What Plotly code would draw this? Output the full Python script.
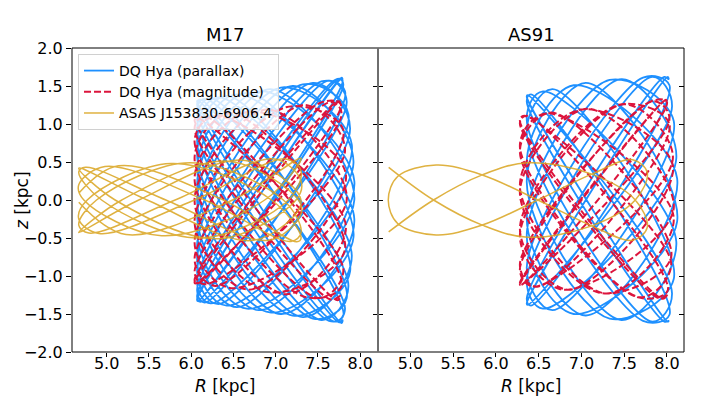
import plotly.graph_objects as go

# ---------------- data ----------------
panel_titles = ["M17", "AS91"]
series_names = ["DQ Hya (parallax)", "DQ Hya (magnitude)", "ASAS J153830-6906.4"]
x_title = "<i>R</i> [kpc]"
y_title = "<i>z</i> [kpc]"

x_tick_vals = [5.0, 5.5, 6.0, 6.5, 7.0, 7.5, 8.0]
y_tick_vals = [-2.0, -1.5, -1.0, -0.5, 0.0, 0.5, 1.0, 1.5, 2.0]

# M17 potential: DQ Hya (parallax) orbit waypoints (R, z in kpc)
m17_par_R = [7.79, 7.78, 6.07, 6.08,  7.80, 7.75, 6.07, 6.11,  7.84, 7.63, 6.07, 6.23,
             7.88, 7.44, 6.07, 6.42,  7.92, 7.20, 6.07, 6.66,  7.93, 6.93, 6.07, 6.93,
             7.92, 6.66, 6.07, 7.20,  7.88, 6.42, 6.07, 7.44,  7.84, 6.23, 6.07, 7.63,
             7.80, 6.11, 6.07, 7.75,
             7.79, 7.78, 6.07, 6.08,  7.82, 7.70, 6.07, 6.16,  7.86, 7.54, 6.07, 6.32,
             7.90, 7.32, 6.07, 6.54,  7.93, 7.06, 6.07, 6.80,  7.93, 6.80, 6.07, 7.06,
             7.90, 6.54, 6.07, 7.32,  7.86, 6.32, 6.07, 7.54,  7.82, 6.16, 6.07, 7.70,
             7.79, 6.08, 6.07, 7.78,  7.79]
m17_par_z = [1.59, 1.61, -1.31, -1.33,  1.52, 1.59, -1.26, -1.34,  1.29, 1.57, -1.07, -1.36,
             0.94, 1.54, -0.78, -1.39,  0.49, 1.50, -0.41, -1.43,  0.00, 1.46, 0.00, -1.48,
             -0.49, 1.41, 0.41, -1.52,  -0.94, 1.37, 0.78, -1.56,  -1.29, 1.34, 1.07, -1.59,
             -1.52, 1.32, 1.26, -1.61,
             -1.58, -1.62, 1.30, 1.31,  -1.43, -1.60, 1.18, 1.33,  -1.13, -1.58, 0.93, 1.35,
             -0.73, -1.54, 0.60, 1.39,  -0.25, -1.50, 0.21, 1.43,  0.25, -1.45, -0.21, 1.48,
             0.73, -1.41, -0.60, 1.52,  1.13, -1.37, -0.93, 1.56,  1.43, -1.35, -1.18, 1.58,
             1.58, -1.33, -1.30, 1.60,  1.59]

# M17 potential: DQ Hya (magnitude) orbit waypoints
m17_mag_R = [7.76, 7.75, 6.04, 6.05,  7.78, 7.65, 6.04, 6.16,  7.82, 7.33, 6.04, 6.47,
             7.84, 6.90, 6.04, 6.90,  7.82, 6.47, 6.04, 7.33,  7.78, 6.16, 6.04, 7.65,
             7.77, 7.73, 6.04, 6.07,  7.80, 7.51, 6.04, 6.29,  7.83, 7.12, 6.04, 6.68,
             7.83, 6.68, 6.04, 7.12,  7.80, 6.29, 6.04, 7.51,  7.77, 6.07, 6.04, 7.73,
             7.76]
m17_mag_z = [1.29, 1.30, -1.08, -1.10,  1.13, 1.29, -0.94, -1.11,  0.65, 1.25, -0.55, -1.16,
             0.00, 1.19, 0.00, -1.21,  -0.65, 1.14, 0.55, -1.27,  -1.13, 1.10, 0.94, -1.31,
             -1.26, -1.32, 1.05, 1.08,  -0.92, -1.29, 0.77, 1.11,  -0.34, -1.24, 0.28, 1.16,
             0.34, -1.18, -0.28, 1.22,  0.92, -1.13, -0.77, 1.27,  1.26, -1.10, -1.05, 1.30,
             1.29]

# M17 potential: ASAS J153830-6906.4 orbit waypoints
m17_asas_R = [4.67, 5.14, 6.38, 7.25, 7.30, 6.95, 5.76, 4.77, 4.67, 4.91, 6.04, 7.12,
              7.30, 7.15, 6.10, 4.94, 4.67, 4.75, 5.70, 6.92, 7.30, 7.27, 6.44, 5.18,
              4.67, 5.38, 6.64, 7.30, 6.74, 5.48, 4.67, 5.10, 6.33, 7.24, 7.30, 6.99,
              5.81, 4.79, 4.67, 4.88, 5.99, 7.09, 7.30, 7.18, 6.16, 4.98, 4.67, 4.73,
              5.65, 6.87, 7.30, 6.49, 5.23, 4.67]
m17_asas_z = [0.09, 0.45, 0.00, -0.55, -0.50, 0.00, 0.48, 0.00, -0.25, -0.44, 0.00, 0.54,
              0.38, 0.00, -0.50, 0.00, 0.37, 0.43, 0.00, -0.53, -0.18, 0.00, 0.51, 0.00,
              -0.43, 0.00, 0.52, -0.02, -0.53, 0.00, 0.42, 0.00, -0.51, 0.00, 0.25, 0.54,
              0.00, -0.435, -0.33, 0.00, 0.49, 0.00, -0.43, -0.545, 0.00, 0.44, 0.20, 0.00,
              -0.47, 0.00, 0.55, 0.00, -0.455, -0.03]

# AS91 potential: DQ Hya (parallax) orbit waypoints
as91_par_R = [8.02, 8.01, 6.36, 6.37,  8.06, 7.83, 6.36, 6.55,  8.11, 7.47, 6.36, 6.91,
              8.12, 7.05, 6.36, 7.33,  8.08, 6.66, 6.36, 7.72,  8.03, 6.41, 6.36, 7.97,
              8.02, 8.01, 6.36, 6.37,  8.06, 7.83, 6.36, 6.55,  8.11, 7.47, 6.36, 6.91,
              8.12, 7.05, 6.36, 7.33,  8.08, 6.66, 6.36, 7.72,  8.03, 6.41, 6.36, 7.97,
              8.02]
as91_par_z = [1.59, 1.62, -1.36, -1.38,  1.23, 1.62, -1.06, -1.43,  0.55, 1.59, -0.47, -1.50,
              -0.28, 1.54, 0.24, -1.56,  -1.04, 1.46, 0.89, -1.59,  -1.51, 1.39, 1.30, -1.60,
              -1.59, -1.60, 1.36, 1.38,  -1.23, -1.60, 1.06, 1.43,  -0.55, -1.58, 0.47, 1.51,
              0.28, -1.52, -0.24, 1.58,  1.04, -1.45, -0.89, 1.61,  1.51, -1.39, -1.30, 1.62,
              1.59]

# AS91 potential: DQ Hya (magnitude) orbit waypoints
as91_mag_R = [8.00, 7.99, 6.28, 6.29,  8.03, 7.84, 6.28, 6.44,  8.07, 7.50, 6.28, 6.78,
              8.08, 7.07, 6.28, 7.21,  8.05, 6.65, 6.28, 7.63,  8.01, 6.36, 6.28, 7.92,
              8.01, 7.95, 6.28, 6.33,  8.05, 7.69, 6.28, 6.59,  8.08, 7.29, 6.28, 6.99,
              8.07, 6.85, 6.28, 7.43,  8.03, 6.48, 6.28, 7.80,  8.00, 6.29, 6.28, 7.99,
              8.00]
as91_mag_z = [1.30, 1.32, -1.11, -1.12,  1.07, 1.30, -0.91, -1.14,  0.55, 1.26, -0.47, -1.18,
              -0.11, 1.20, 0.10, -1.22,  -0.75, 1.15, 0.64, -1.27,  -1.19, 1.11, 1.01, -1.30,
              -1.23, -1.30, 1.04, 1.11,  -0.84, -1.28, 0.71, 1.14,  -0.23, -1.23, 0.19, 1.19,
              0.45, -1.18, -0.38, 1.25,  1.00, -1.14, -0.85, 1.29,  1.29, -1.12, -1.09, 1.32,
              1.30]

# AS91 potential: ASAS J153830-6906.4 orbit waypoints
as91_asas_R = [4.745, 5.27, 5.84, 6.37, 7.12, 7.63, 7.77, 7.60, 7.12, 6.49, 5.84, 5.30,
               4.85, 4.74, 4.85, 5.30, 5.84, 6.49, 7.12, 7.60, 7.77, 7.63, 7.12, 6.37,
               5.84, 5.27, 4.745]
as91_asas_z = [0.43, 0.00, -0.33, -0.49, -0.34, 0.00, 0.36, 0.53, 0.34, 0.00, -0.33, -0.46,
               -0.31, 0.00, 0.31, 0.46, 0.33, 0.00, -0.34, -0.53, -0.36, 0.00, 0.34, 0.49,
               0.33, 0.00, -0.42]

# ---------------- styling ----------------
BLUE = "#1E90FF"
RED = "#DC143C"
GOLD = "#DAA520"
FONT = "DejaVu Sans"

fig = go.Figure()

def add_orbit(R, z, name, color, xa, ya, show, dash="solid", width=1.8, opacity=1.0):
    fig.add_trace(go.Scatter(
        x=R, y=z, mode="lines", name=name, xaxis=xa, yaxis=ya,
        line=dict(color=color, width=width, dash=dash, shape="spline", smoothing=1.0),
        opacity=opacity, showlegend=show, hoverinfo="skip"))

add_orbit(m17_par_R, m17_par_z, series_names[0], BLUE, "x", "y", True)
add_orbit(m17_mag_R, m17_mag_z, series_names[1], RED, "x", "y", True, dash="7px,3px", width=2.0)
add_orbit(m17_asas_R, m17_asas_z, series_names[2], GOLD, "x", "y", True, width=1.5, opacity=0.85)
add_orbit(as91_par_R, as91_par_z, series_names[0], BLUE, "x2", "y2", False)
add_orbit(as91_mag_R, as91_mag_z, series_names[1], RED, "x2", "y2", False, dash="7px,3px", width=2.0)
add_orbit(as91_asas_R, as91_asas_z, series_names[2], GOLD, "x2", "y2", False, width=1.5, opacity=0.85)

# invisible helpers so the extra tick-only axes are drawn
fig.add_trace(go.Scatter(x=[None], y=[None], xaxis="x", yaxis="y3", showlegend=False, hoverinfo="skip"))
fig.add_trace(go.Scatter(x=[None], y=[None], xaxis="x2", yaxis="y4", showlegend=False, hoverinfo="skip"))

xt_text = [f"{v:.1f}" for v in x_tick_vals]
yt_text = [f"{v:.1f}".replace("-", "\u2212") for v in y_tick_vals]

common_x = dict(tickvals=x_tick_vals, ticktext=xt_text, ticks="outside", ticklen=4,
                tickcolor="black", showline=False, showgrid=False, zeroline=False,
                automargin=False, ticklabelstandoff=-7,
                tickfont=dict(family=FONT, size=16, color="black"))
tick_only_y = dict(range=[-2.0, 2.0], tickvals=y_tick_vals, ticks="inside", ticklen=5,
                   tickcolor="black", showline=False, showgrid=False, zeroline=False,
                   showticklabels=False, automargin=False)

# the page adds an 8 px body margin, so the figure is sized/margined to compensate
fig.update_layout(
    width=710, height=388,
    margin=dict(l=64, r=34, t=40, b=44),
    paper_bgcolor="white", plot_bgcolor="white",
    font=dict(family=FONT, color="black"),
    xaxis=dict(domain=[0.0, 0.5], range=[4.59, 8.21], anchor="y", **common_x),
    xaxis2=dict(domain=[0.5, 1.0], range=[4.62, 8.20], anchor="y2", **common_x),
    yaxis=dict(range=[-2.0, 2.0], tickvals=y_tick_vals, ticktext=yt_text, ticks="outside",
               ticklen=5, tickcolor="black", showline=False, showgrid=False, zeroline=False,
               anchor="x", automargin=False, ticklabelstandoff=0,
               tickfont=dict(family=FONT, size=16, color="black")),
    yaxis2=dict(anchor="x2", side="left", **tick_only_y),
    yaxis3=dict(anchor="x", overlaying="y", side="right", **tick_only_y),
    yaxis4=dict(anchor="x2", overlaying="y2", side="right", **tick_only_y),
    legend=dict(x=0.0098, y=0.9803, xanchor="left", yanchor="top",
                bgcolor="rgba(255,255,255,0.8)", bordercolor="#d0d0d0", borderwidth=1,
                font=dict(family=FONT, size=14, color="black"), itemwidth=30,
                tracegroupgap=0),
    showlegend=True,
)

# panel frames
frame = dict(type="line", xref="paper", yref="paper", layer="above")
fig.add_shape(x0=0, x1=1, y0=1, y1=1, line=dict(color="black", width=1), **frame)
fig.add_shape(x0=0, x1=1, y0=0, y1=0, line=dict(color="black", width=1), **frame)
fig.add_shape(x0=0, x1=0, y0=0, y1=1, line=dict(color="black", width=1), **frame)
fig.add_shape(x0=1, x1=1, y0=0, y1=1, line=dict(color="black", width=1), **frame)
fig.add_shape(x0=0.5, x1=0.5, y0=0, y1=1, line=dict(color="#6e6e6e", width=2), **frame)

for i, t in enumerate(panel_titles):
    fig.add_annotation(text=t, x=0.25 + 0.5 * i, y=1.043, xref="paper", yref="paper",
                       xanchor="center", yanchor="middle", showarrow=False,
                       font=dict(family=FONT, size=18, color="black"))
    fig.add_annotation(text=x_title, x=0.25 + 0.5 * i, y=-0.112, xref="paper", yref="paper",
                       xanchor="center", yanchor="middle", showarrow=False,
                       font=dict(family=FONT, size=17, color="black"))

fig.add_annotation(text=y_title, x=-0.0817, y=0.5, xref="paper", yref="paper",
                   xanchor="center", yanchor="middle", textangle=-90, showarrow=False,
                   font=dict(family=FONT, size=17, color="black"))

fig.write_html("out.html")
